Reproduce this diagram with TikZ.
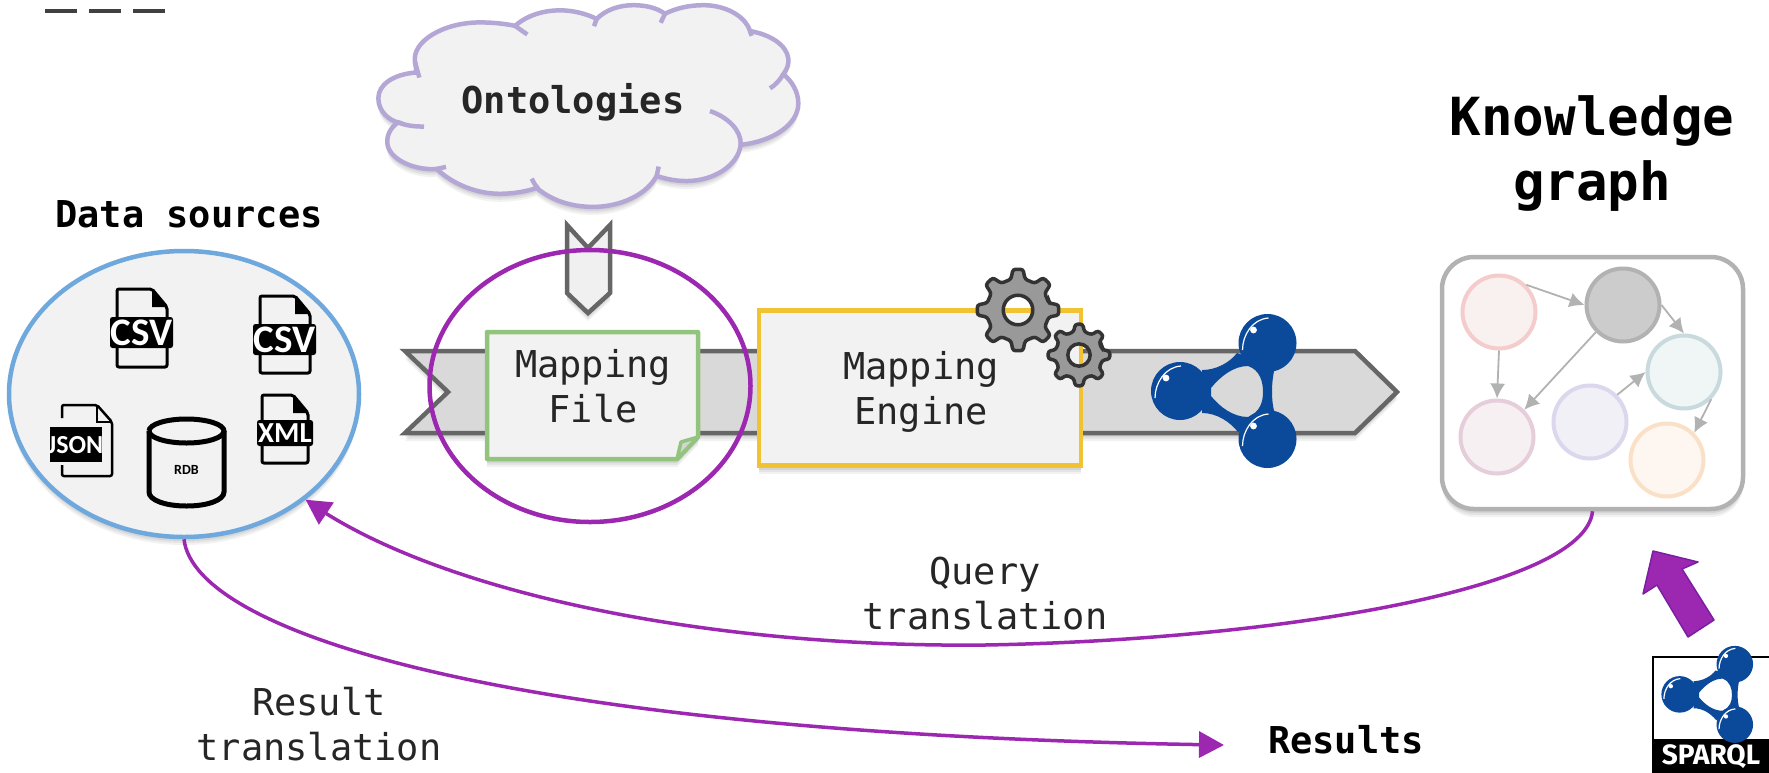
\documentclass[tikz,border=0pt]{standalone}
\usepackage{fontspec}
\setmainfont{DejaVu Sans Mono}
\newfontfamily\iconfont{Carlito}
\usetikzlibrary{arrows.meta,bending,shadows,shapes.geometric}
\definecolor{plum}{HTML}{9C27B0}
\definecolor{plumdark}{HTML}{7B1FA2}
\definecolor{rdfblue}{HTML}{0B4A9B}
\definecolor{dsblue}{HTML}{6FA8DC}
\definecolor{cloudc}{HTML}{B4A7D6}
\definecolor{mfgreen}{HTML}{93C47D}
\definecolor{meyellow}{HTML}{F1C232}
\tikzset{
  softshadow/.style={
    drop shadow={shadow xshift=0pt,shadow yshift=-8pt,opacity=.1},
    drop shadow={shadow xshift=0pt,shadow yshift=-6pt,opacity=.12},
    drop shadow={shadow xshift=0pt,shadow yshift=-4pt,opacity=.15}},
  lbl/.style={inner sep=0pt,align=center,text=black!85,font=\fontsize{37}{45}\selectfont},
  lblb/.style={inner sep=0pt,align=center,text=black,font=\fontsize{37}{45}\selectfont\bfseries},
  head/.style={inner sep=0pt,align=center,text=black,font=\fontsize{52.5}{65}\selectfont\bfseries},
  kgc/.style={circle,minimum size=73pt,inner sep=0pt,line width=4pt},
  kge/.style={draw=black!30,line width=1.8pt,-{Latex[length=15pt,width=15pt]}},
  query/.style={draw=plum,line width=3.5pt},
  gearst/.style={draw=black!80,fill=black!40,line width=3.5pt,even odd rule,rounded corners=2.5pt},
  filest/.style={draw=black,line width=3pt,rounded corners=2pt},
}
\newcommand{\FileIcon}[9]{%
  \draw[filest] (#1,#2) -- ({#3-15},#2) -- (#3,{#2+18}) -- (#3,#4) -- (#1,#4) -- cycle;
  \fill[black] ({#3-15},#2) -- (#3,{#2+18}) -- ({#3-15},{#2+18}) -- cycle;
  \fill[black,rounded corners=2.5pt] (#5,#6) rectangle (#7,#8);
  \node[inner sep=0pt,text=white,font=\iconfont\bfseries\fontsize{#9}{#9}\selectfont] at ({(#5+#7)/2},{(#6+#8)/2}) {\IconText};
}
\newcommand{\GearAt}[3]{% cx cy R
  \begin{scope}[shift={(#1,#2)}]
    \pgfmathsetmacro{\gr}{#3*.77}
    \pgfmathsetmacro{\gh}{#3*.36}
    \draw[gearst] (-13:\gr) \foreach \a in {0,45,...,315} {
       -- ({\a-13}:\gr) -- ({\a-7}:#3) -- ({\a+7}:#3) -- ({\a+13}:\gr)
    } -- cycle (0,0) circle (\gh);
  \end{scope}
}
\newcommand{\Molecule}[3]{% x y scale
  \begin{scope}[shift={(#1,#2)},scale=#3]
    \fill[rdfblue,even odd rule] (-23,-22) .. controls (-8,-22) and (5,-30) .. (12,-39) -- (50,-25)
       .. controls (46,-10) and (46,10) .. (50,22) -- (13,40) .. controls (5,30) and (-8,21) .. (-23,21) -- cycle
       (-14,-4) .. controls (-5,-15) and (8,-26) .. (23,-26) .. controls (35,-22) and (38,-10) .. (38,0)
       .. controls (38,10) and (35,20) .. (23,25) .. controls (8,25) and (-5,15) .. (-14,4) -- cycle;
    \foreach \bx/\by in {-45/-1,42.5/-49,42.5/47} {
      \fill[rdfblue] (\bx,\by) circle (29);
      \fill[white] ({\bx-14},{\by-13}) circle (3.4);
      \draw[white,line width=1.2pt] ({\bx-25},{\by+7}) .. controls ({\bx-25},{\by-8}) and ({\bx-15},{\by-24}) .. ({\bx+1},{\by-25});
    }
  \end{scope}
}
\begin{document}
\begin{tikzpicture}[x=1pt,y=-1pt]
\useasboundingbox (0,0) rectangle (1769,772);
\fill[white] (0,0) rectangle (1769,772);
% top dashes
\foreach \xa/\xb in {45/77,89/121,133/165} \draw[black!75,line width=4.5pt] (\xa,11) -- (\xb,11);

% data sources
\node[lblb] (dstitle) at (189,214) {Data sources};
\node[ellipse,draw=dsblue,fill=black!5,line width=4.5pt,minimum width=350pt,minimum height=286pt,inner sep=0pt,softshadow] (ds) at (184,394) {};
\def\IconText{CSV}
\FileIcon{117}{289}{167}{367}{110}{317}{173}{348}{39}
\FileIcon{260}{296}{310}{373}{253}{324}{316}{355}{39}
\def\IconText{XML}
\FileIcon{262}{395}{308}{463}{257}{420}{313}{446}{29}
% JSON
\draw[filest,line width=2.5pt] (62,418) -- (62,405) -- (97,405) -- (112,422) -- (112,476) -- (62,476) -- (62,465);
\draw[black,line width=2pt] (97,405) -- (97,422) -- (112,422);
\fill[black] (50,427) rectangle (102,462);
\begin{scope}
  \clip (50,427) rectangle (102,462);
  \node[inner sep=0pt,text=white,font=\iconfont\bfseries\fontsize{26}{26}\selectfont] at (75.5,445) {JSON};
\end{scope}
% RDB
\draw[black,line width=5pt] (149,431) arc[x radius=37.5,y radius=12,start angle=180,end angle=-180];
\draw[black,line width=5pt] (149,431) -- (149,492) .. controls (149,500) and (165,506) .. (186.5,506) .. controls (208,506) and (224,500) .. (224,492) -- (224,431);
\node[inner sep=0pt,text=black,font=\iconfont\bfseries\fontsize{14}{14}\selectfont] (rdb) at (186.5,470) {RDB};

% cloud
\begin{scope}[x=0.33333pt,y=-0.34483pt,shift={(370pt,0pt)}]
\path[fill=black!5,draw=cloudc,line width=4.5pt,softshadow]
 (140,210) .. controls (70,215) and (25,245) .. (25,285) .. controls (25,325) and (60,350) .. (85,355)
 .. controls (60,370) and (50,395) .. (52,415) .. controls (55,460) and (130,495) .. (200,490)
 .. controls (250,535) and (320,562) .. (390,562) .. controls (430,562) and (470,555) .. (500,545)
 .. controls (550,585) and (610,600) .. (670,600) .. controls (750,600) and (830,565) .. (860,510)
 .. controls (890,520) and (920,525) .. (950,525) .. controls (1030,525) and (1105,480) .. (1112,420)
 .. controls (1210,410) and (1285,360) .. (1285,300) .. controls (1285,265) and (1265,235) .. (1240,215)
 .. controls (1252,200) and (1257,185) .. (1255,170) .. controls (1250,130) and (1200,100) .. (1140,90)
 .. controls (1125,45) and (1065,15) .. (1000,15) .. controls (955,15) and (915,25) .. (885,40)
 .. controls (860,22) and (825,15) .. (790,15) .. controls (745,15) and (705,30) .. (680,55)
 .. controls (650,40) and (610,30) .. (570,30) .. controls (520,30) and (470,45) .. (435,75)
 .. controls (400,68) and (365,65) .. (330,65) .. controls (220,65) and (125,120) .. (135,180)
 -- cycle;
\draw[cloudc,line width=4.5pt]
 (135,180) -- (148,225)
 (85,355) .. controls (110,365) and (135,367) .. (162,367)
 (200,490) -- (228,484)
 (485,518) .. controls (490,528) and (495,537) .. (505,547)
 (860,510) -- (866,483)
 (1112,420) .. controls (1115,380) and (1075,340) .. (1020,322)
 (1240,215) .. controls (1230,232) and (1215,248) .. (1200,256)
 (1140,90) -- (1145,104)
 (885,40) -- (872,66)
 (680,55) -- (672,76)
 (435,75) -- (472,100);
\end{scope}
\node[lblb,text=black!85] (onto) at (573,102) {Ontologies};

% main band
\path[fill=black!15,draw=black!60,line width=4.5pt,softshadow]
  (405,351) -- (1355,351) -- (1397,392) -- (1355,433) -- (405,433) -- (448,392) -- cycle;
% small pentagon arrow
\path[fill=black!6,draw=black!60,line width=4.5pt,softshadow]
  (567,225) -- (588,248) -- (610,225) -- (610,293) -- (588,313) -- (567,293) -- cycle;

% mapping file
\path[fill=black!5,draw=mfgreen,line width=4.5pt,line join=round,softshadow]
  (487,332) -- (698,332) -- (698,437) -- (677,459) -- (487,459) -- cycle;
\path[fill=black!17,draw=mfgreen,line width=3.5pt,line join=round]
  (698,437) -- (681,442) -- (677,459) -- cycle;
\node[lbl] (mf) at (593,386) {Mapping\\File};

% mapping engine
\node[rectangle,draw=meyellow,fill=black!5,line width=4.5pt,minimum width=322pt,minimum height=155pt,inner sep=0pt,softshadow] (mebox) at (920,388) {};
\node[lbl] (me) at (921,392) {Mapping\\Engine};
\GearAt{1018}{310}{41}
\GearAt{1079}{355}{31}

% molecule
\Molecule{1225}{392}{1}

% selection ellipse
\node[ellipse,draw=plum,line width=4.5pt,minimum width=321pt,minimum height=272pt,inner sep=0pt] (sel) at (590,386) {};

% knowledge graph
\node[head] (kgtitle) at (1592,154) {Knowledge\\graph};
\node[rectangle,rounded corners=32pt,draw=black!30,fill=white,line width=4.5pt,minimum width=301pt,minimum height=252pt,inner sep=0pt,softshadow] (kg) at (1592.5,383) {};
\node[kgc,draw={rgb,255:red,244;green,204;blue,204},fill={rgb,255:red,249;green,240;blue,240}] (pink) at (1499,312) {};
\node[kgc,draw=black!30,fill=black!20] (grayc) at (1623,305) {};
\node[kgc,draw={rgb,255:red,200;green,218;blue,222},fill={rgb,255:red,240;green,246;blue,246}] (teal) at (1684,372) {};
\node[kgc,draw={rgb,255:red,220;green,215;blue,236},fill={rgb,255:red,241;green,240;blue,247}] (lilac) at (1590,422) {};
\node[kgc,draw={rgb,255:red,229;green,205;blue,218},fill={rgb,255:red,247;green,240;blue,243}] (mauve) at (1497,437) {};
\node[kgc,draw={rgb,255:red,250;green,224;blue,198},fill={rgb,255:red,254;green,246;blue,240}] (orange) at (1667,460) {};
\draw[kge] (pink.45) -- (grayc.west);
\draw[kge] (pink.south) -- (mauve.north);
\draw[kge] (grayc.east) -- (teal.north);
\draw[kge] (grayc.225) -- (mauve.45);
\draw[kge] (lilac.45) -- (teal.west);
\draw[kge] (teal.-45) -- (orange.45);

% query and result curves
\node[lbl] (qt) at (985,594) {Query\\translation};
\node[lbl] (rt) at (319,724) {Result\\translation};
\node[lblb] (res) at (1346,740) {Results};
\coordinate (rtip) at (1224,745);
\draw[query,-{Triangle[length=25pt,width=26pt]}] (kg.south) .. controls (1585,590) and (1270,640) .. (985,645) .. controls (700,648) and (430,590) .. (ds.-41);
\draw[query,-{Triangle[length=25pt,width=26pt]}] (ds.south) .. controls (195,635) and (520,735) .. (rtip);

% big arrow
\draw[fill=plum,draw=plumdark,line width=1.5pt,line join=round]
  (1653,551) -- (1698,562) -- (1682,569) -- (1714,620) -- (1688,637) -- (1657,585) -- (1643,594) -- cycle;

% sparql logo
\node[rectangle,draw=black,fill=white,line width=1.5pt,minimum width=118pt,minimum height=116pt,inner sep=0pt] (sparql) at (1712,715) {};
\fill[black] (1653,739) rectangle (1769,772);
\Molecule{1708}{695}{.63}
\node[inner sep=0pt,text=white,font=\fontspec{Fira Sans}\bfseries\fontsize{28}{28}\selectfont] (sq) at (1711,757) {SPARQL};
\end{tikzpicture}
\end{document}
